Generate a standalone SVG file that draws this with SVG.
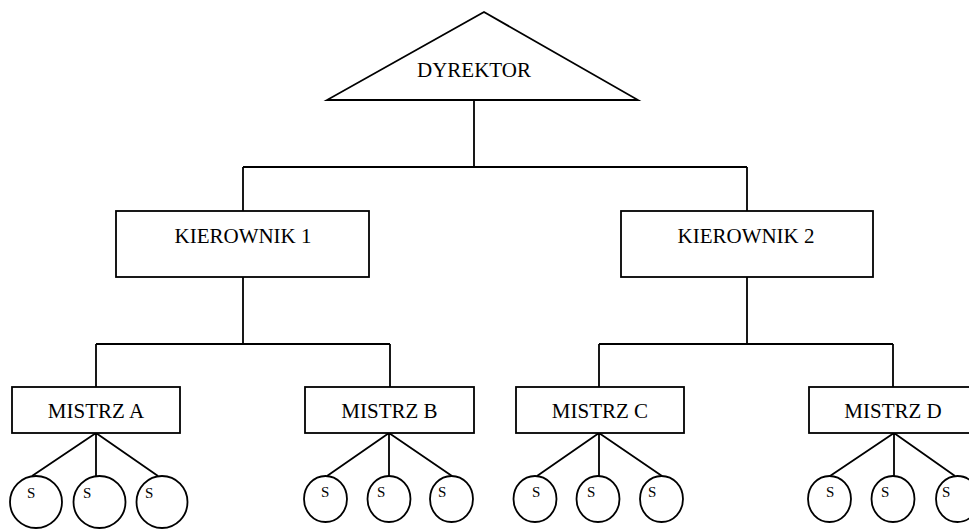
<svg xmlns="http://www.w3.org/2000/svg" width="969" height="529" viewBox="0 0 969 529">
<style>
.n{fill:#fff;stroke:#000;stroke-width:1.8}
.c{fill:none;stroke:#000;stroke-width:1.8}
.t{font-family:"Liberation Serif","Times New Roman",serif;font-size:21px;fill:#000;text-anchor:middle}
.s{font-family:"Liberation Serif","Times New Roman",serif;font-size:15px;fill:#000}
</style>
<rect width="969" height="529" fill="#fff"/>
<g id="connectors" class="c">
<path d="M474 100V167M243 167H747M243 167V211M747 167V211"/>
<path d="M243 277V344M96 344H390M96 344V387M390 344V387"/>
<path d="M747 277V344M599 344H893M599 344V387M893 344V387"/>
<path d="M96 433L32 476M96 433V476M96 433L158 476"/>
<path d="M389 433L327 476M389 433V476M389 433L452 476"/>
<path d="M599 433L537 476M599 433V476M599 433L662 476"/>
<path d="M894 433L830 476M894 433V476M894 433L955 476"/>
</g>
<g id="dyrektor"><polygon class="n" points="484,12 638,100 327,100"/><text class="t" x="474" y="77">DYREKTOR</text></g>
<g id="kierownik1"><rect class="n" x="116" y="211" width="253" height="66"/><text class="t" x="243" y="243">KIEROWNIK 1</text></g>
<g id="kierownik2"><rect class="n" x="621" y="211" width="252" height="66"/><text class="t" x="746" y="243">KIEROWNIK 2</text></g>
<g id="mistrzA"><rect class="n" x="12" y="387" width="168" height="46"/><text class="t" x="96" y="418">MISTRZ A</text></g>
<g id="mistrzB"><rect class="n" x="305" y="387" width="169" height="46"/><text class="t" x="389.5" y="418">MISTRZ B</text></g>
<g id="mistrzC"><rect class="n" x="516" y="387" width="168" height="46"/><text class="t" x="600" y="418">MISTRZ C</text></g>
<g id="mistrzD"><rect class="n" x="809" y="387" width="169" height="46"/><text class="t" x="893" y="418">MISTRZ D</text></g>
<g id="sA1"><ellipse class="n" cx="36" cy="502" rx="26" ry="26"/><text class="s" x="27" y="498">S</text></g>
<g id="sA2"><ellipse class="n" cx="99.5" cy="502" rx="26" ry="26"/><text class="s" x="83" y="498">S</text></g>
<g id="sA3"><ellipse class="n" cx="162" cy="502" rx="25.5" ry="26"/><text class="s" x="145" y="498">S</text></g>
<g id="sB1"><ellipse class="n" cx="325.5" cy="499" rx="21.5" ry="23"/><text class="s" x="321" y="497">S</text></g>
<g id="sB2"><ellipse class="n" cx="389" cy="499" rx="21.5" ry="23"/><text class="s" x="377" y="497">S</text></g>
<g id="sB3"><ellipse class="n" cx="451.5" cy="499" rx="21.5" ry="23"/><text class="s" x="438" y="497">S</text></g>
<g id="sC1"><ellipse class="n" cx="535" cy="499" rx="21.5" ry="23"/><text class="s" x="532" y="497">S</text></g>
<g id="sC2"><ellipse class="n" cx="598" cy="499" rx="21.5" ry="23"/><text class="s" x="587" y="497">S</text></g>
<g id="sC3"><ellipse class="n" cx="661.5" cy="499" rx="21.5" ry="23"/><text class="s" x="648" y="497">S</text></g>
<g id="sD1"><ellipse class="n" cx="829.5" cy="499" rx="21.5" ry="23"/><text class="s" x="826" y="497">S</text></g>
<g id="sD2"><ellipse class="n" cx="893" cy="499" rx="21.5" ry="23"/><text class="s" x="881" y="497">S</text></g>
<g id="sD3"><ellipse class="n" cx="957.5" cy="499" rx="21.5" ry="23"/><text class="s" x="942" y="497">S</text></g>
</svg>
